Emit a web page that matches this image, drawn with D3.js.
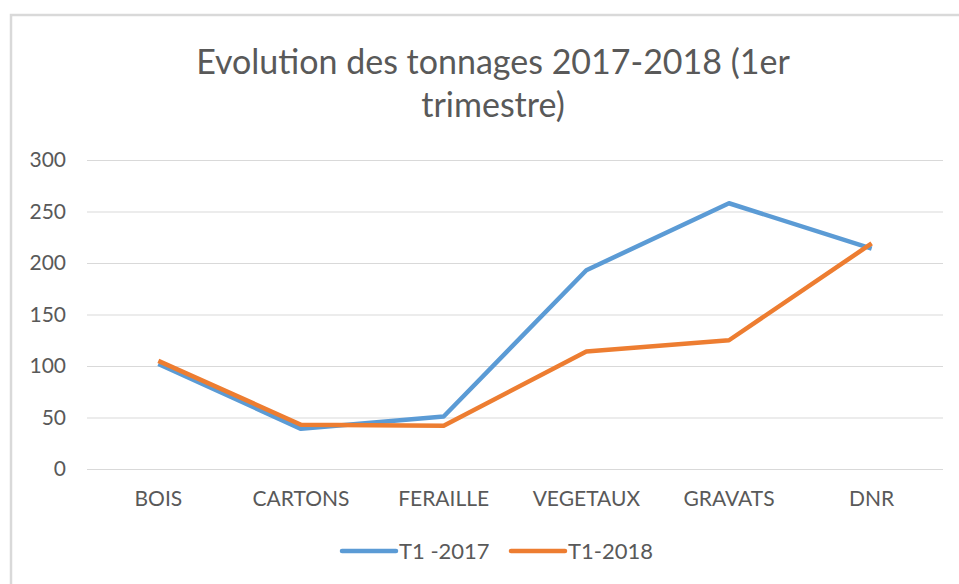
<!DOCTYPE html>
<html>
<head>
<meta charset="utf-8">
<script src="https://cdn.jsdelivr.net/npm/d3@7"></script>
<style>
  html, body { margin: 0; padding: 0; background: #fff; }
  svg { display: block; }
  text { font-family: Lato, "Open Sans", sans-serif; fill: #595959; }
</style>
</head>
<body>
<svg id="chart"></svg>
<script>
var categories = ['BOIS', 'CARTONS', 'FERAILLE', 'VEGETAUX', 'GRAVATS', 'DNR']
var seriesNames = ['T1 -2017', 'T1-2018']
var t1_2017 = [102, 39, 51, 193, 258, 214]
var t1_2018 = [105, 43, 42, 114, 125, 219]
var yTicks = [0, 50, 100, 150, 200, 250, 300]
var titleLines = ['Evolution des tonnages 2017-2018 (1er', 'trimestre)']
var colors = ['#5B9BD5', '#ED7D31']

var width = 959
  , height = 584
  , m = { left: 87, right: 16, top: 160, bottom: 115 }

var svg = d3.select('#chart')
  .attr('width', width)
  .attr('height', height)

// chart frame (runs off the right and bottom of the picture)
svg.append('rect')
  .attr('x', 11).attr('y', 15)
  .attr('width', 980).attr('height', 600)
  .attr('fill', '#fff')
  .attr('stroke', '#d9d9d9')
  .attr('stroke-width', 2.5)

svg.selectAll('.title').data(titleLines)
  .enter().append('text')
  .attr('class', 'title')
  .attr('x', 493)
  .attr('y', function (d, i) { return 74 + i * 43 })
  .attr('text-anchor', 'middle')
  .style('font-size', '34px')
  .text(function (d) { return d })

var x = d3.scaleBand().domain(categories).range([m.left, width - m.right])
var y = d3.scaleLinear().domain([0, 300]).range([height - m.bottom, m.top])

var yAxis = svg.append('g')
  .attr('transform', 'translate(' + m.left + ',0)')
  .call(d3.axisLeft(y).tickValues(yTicks).tickSize(-(width - m.right - m.left)).tickPadding(21))
yAxis.select('.domain').remove()
yAxis.selectAll('line').attr('stroke', '#d9d9d9').attr('stroke-width', 1.2)
yAxis.selectAll('text').style('font-size', '21px').attr('fill', '#595959')

var xAxis = svg.append('g')
  .attr('transform', 'translate(0,' + (height - m.bottom) + ')')
  .call(d3.axisBottom(x).tickSize(0).tickPadding(22))
xAxis.select('.domain').remove()
xAxis.selectAll('text').style('font-size', '21px').attr('fill', '#595959')

var line = d3.line()
  .x(function (d, i) { return x(categories[i]) + x.bandwidth() / 2 })
  .y(function (d) { return y(d) })

svg.selectAll('.series').data([t1_2017, t1_2018])
  .enter().append('path')
  .attr('class', 'series')
  .attr('d', line)
  .attr('fill', 'none')
  .attr('stroke', function (d, i) { return colors[i] })
  .attr('stroke-width', 4.5)
  .attr('stroke-linejoin', 'round')

var legendX = [342, 511]
var leg = svg.selectAll('.legend').data(seriesNames)
  .enter().append('g')
  .attr('class', 'legend')
  .attr('transform', function (d, i) { return 'translate(' + legendX[i] + ',551)' })
leg.append('line')
  .attr('x1', 0).attr('x2', 54)
  .attr('stroke', function (d, i) { return colors[i] })
  .attr('stroke-width', 4.5)
  .attr('stroke-linecap', 'round')
leg.append('text')
  .attr('x', 57).attr('y', 8)
  .style('font-size', '22px')
  .text(function (d) { return d })
</script>
</body>
</html>
